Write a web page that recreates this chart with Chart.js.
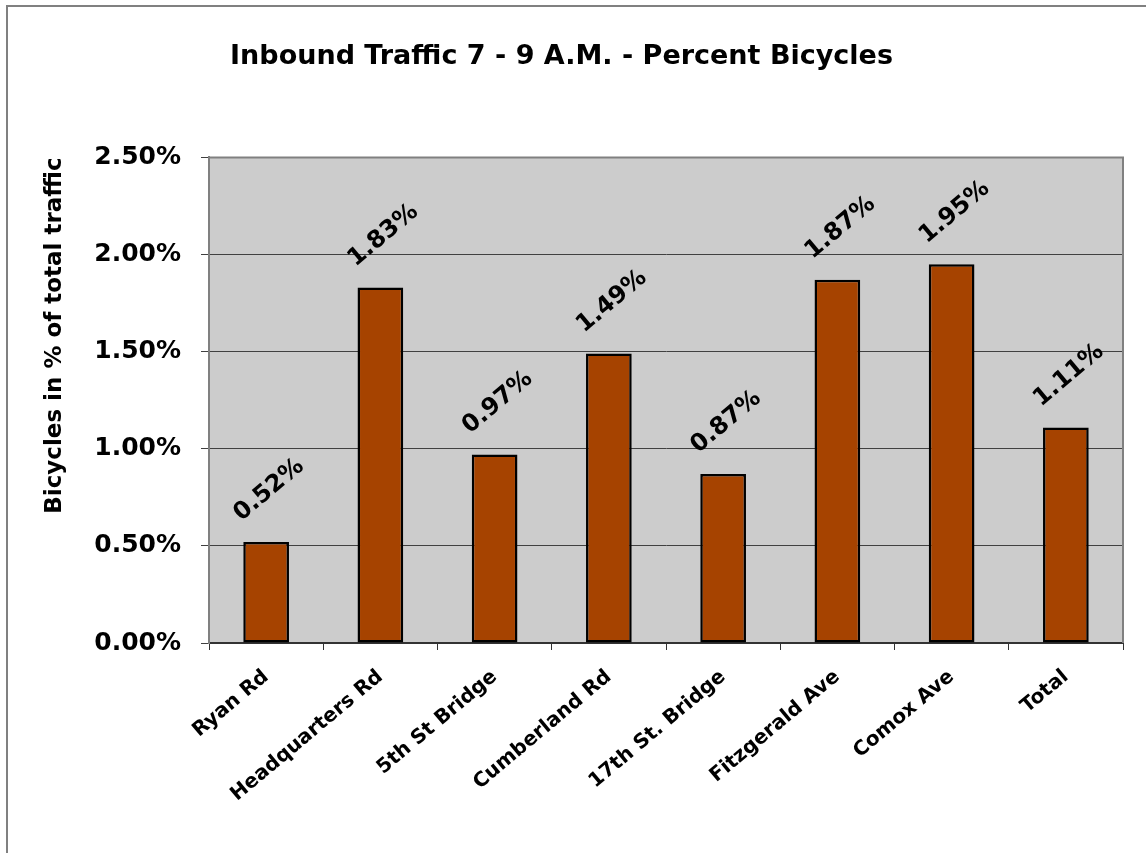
<!DOCTYPE html>
<html>
<head>
<meta charset="utf-8">
<script src="https://cdn.jsdelivr.net/npm/chart.js@4"></script>
<style>
  body { margin: 0; background: #fff; }
  canvas { display: block; }
</style>
</head>
<body>
<canvas id="barChart" width="1146" height="853"></canvas>
<script>
let roads = ["Ryan Rd", "Headquarters Rd", "5th St Bridge", "Cumberland Rd", "17th St. Bridge", "Fitzgerald Ave", "Comox Ave", "Total"];
let bikeShare = [0.52, 1.83, 0.97, 1.49, 0.87, 1.87, 1.95, 1.11];
let yTicks = [0, 0.5, 1.0, 1.5, 2.0, 2.5];
let barColor = "#a64300";
let fontName = "'DejaVu Sans', sans-serif";

// grey plot background, plot border and the outer frame
const frame = {
    id: "frame",
    beforeDraw(chart) {
        const ctx = chart.ctx;
        const a = chart.chartArea;
        ctx.save();
        ctx.strokeStyle = "#808080";
        ctx.lineWidth = 2;
        ctx.strokeRect(7, 6, chart.width + 20, chart.height + 20);
        ctx.fillStyle = "#cccccc";
        ctx.fillRect(a.left, a.top, a.right - a.left, a.bottom - a.top);
        ctx.restore();
    },
    afterDraw(chart) {
        const ctx = chart.ctx;
        const a = chart.chartArea;
        ctx.save();
        ctx.strokeStyle = "#808080";
        ctx.lineWidth = 2;
        ctx.beginPath();
        ctx.moveTo(a.left, a.top);
        ctx.lineTo(a.right, a.top);
        ctx.lineTo(a.right, a.bottom);
        ctx.stroke();
        ctx.restore();
    }
};

// slanted value labels above each bar
const valueLabels = {
    id: "valueLabels",
    afterDatasetsDraw(chart) {
        const ctx = chart.ctx;
        const meta = chart.getDatasetMeta(0);
        ctx.save();
        ctx.font = "bold 24px " + fontName;
        ctx.fillStyle = "#000";
        ctx.textAlign = "center";
        ctx.textBaseline = "middle";
        meta.data.forEach((bar, i) => {
            ctx.save();
            ctx.translate(bar.x + 3, bar.y - 52);
            ctx.rotate(-40 * Math.PI / 180);
            ctx.fillText(bikeShare[i].toFixed(2) + "%", 0, 0);
            ctx.restore();
        });
        ctx.restore();
    }
};

new Chart("barChart", {
    type: "bar",
    data: {
        labels: roads,
        datasets: [{
            data: bikeShare,
            backgroundColor: barColor,
            borderColor: "#000",
            borderWidth: 2.5,
            borderSkipped: false,
            barPercentage: 0.4,
            categoryPercentage: 1.0
        }]
    },
    options: {
        responsive: false,
        animation: false,
        layout: { padding: { left: 0, right: 23, top: 0, bottom: 0 } },
        plugins: {
            legend: { display: false },
            tooltip: { enabled: false },
            title: {
                display: true,
                text: "Inbound Traffic 7 - 9 A.M. - Percent Bicycles",
                color: "#000",
                font: { family: fontName, size: 27, weight: "bold" },
                padding: { top: 41, bottom: 84 }
            }
        },
        scales: {
            x: {
                afterFit(scale) { scale.height = 210; },
                grid: { drawOnChartArea: false, color: "#333", tickLength: 7, offset: true },
                border: { color: "#333", width: 2 },
                ticks: {
                    color: "#000",
                    font: { family: fontName, size: 20, weight: "bold" },
                    minRotation: 40,
                    maxRotation: 40,
                    padding: 15,
                    autoSkip: false
                }
            },
            y: {
                min: 0,
                max: 2.5,
                afterFit(scale) { scale.width = 209; },
                afterBuildTicks(scale) { scale.ticks = yTicks.map(v => ({ value: v })); },
                grid: { color: "#404040", lineWidth: 1, tickLength: 8 },
                border: { color: "#808080", width: 2 },
                ticks: {
                    color: "#000",
                    font: { family: fontName, size: 25, weight: "bold" },
                    padding: 20,
                    callback: v => v.toFixed(2) + "%"
                },
                title: {
                    display: true,
                    align: "end",
                    text: "Bicycles in % of total traffic",
                    color: "#000",
                    font: { family: fontName, size: 23, weight: "bold" },
                    padding: { top: 41, bottom: 0 }
                }
            }
        }
    },
    plugins: [frame, valueLabels]
});
</script>
</body>
</html>
